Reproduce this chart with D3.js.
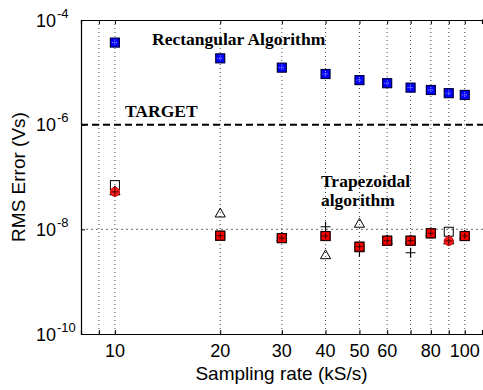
<!DOCTYPE html>
<html>
<head>
<meta charset="utf-8">
<script src="https://cdn.jsdelivr.net/npm/d3@7"></script>
<style>
  html, body { margin: 0; padding: 0; background: #fff; }
  svg { display: block; }
</style>
</head>
<body>
<svg id="chart" width="483" height="390"></svg>
<script>
// Sampling rates (kS/s)
const sampleRates = [10, 20, 30, 40, 50, 60, 70, 80, 90, 100];
// RMS error (Vs), rectangular integration
const rectError = [3.7e-5, 1.85e-5, 1.23e-5, 9.3e-6, 7.1e-6, 6.2e-6, 5.1e-6, 4.6e-6, 4.0e-6, 3.7e-6];
// RMS error (Vs), trapezoidal integration, several runs
const trapRedSquare = [null, 7.55e-9, 6.8e-9, 7.45e-9, 4.65e-9, 6.06e-9, 6.06e-9, 8.4e-9, null, 7.45e-9];
const trapRedCircle = [5.2e-8, 7.55e-9, 6.8e-9, 7.45e-9, 4.65e-9, 6.06e-9, 6.06e-9, 8.4e-9, 6.0e-9, 7.45e-9];
const trapOpenSquare = [7.0e-8, 7.55e-9, 6.8e-9, 7.45e-9, 4.65e-9, 6.06e-9, 6.06e-9, 8.4e-9, 9.0e-9, 7.45e-9];
const trapTriangle = [5.2e-8, 1.96e-8, 6.8e-9, 3.13e-9, 1.25e-8, 6.06e-9, 6.06e-9, 8.4e-9, 6.0e-9, 7.45e-9];
const trapPlus = [5.2e-8, 7.55e-9, 6.8e-9, 1.12e-8, 3.73e-9, 6.06e-9, 3.57e-9, 8.4e-9, 6.0e-9, 7.45e-9];
// Axis ticks and reference levels
const gridRates = [9, 10, 20, 30, 40, 50, 60, 70, 80, 90, 100];
const xTickLabels = [10, 20, 30, 40, 50, 60, 80, 100];
const yDecades = [-10, -8, -6, -4];
const targetLevel = 1e-6;
const referenceLevel = 1e-8;

const svg = d3.select("#chart");
const plotLeft = 81, plotRight = 482, plotTop = 20, plotBottom = 334;
const frameRight = 485;

const x = d3.scaleLog().domain([8, 112]).range([plotLeft, plotRight]);
const y = d3.scaleLog().domain([1e-10, 1e-4]).range([plotBottom, plotTop]);

const g = svg.append("g");

// vertical dotted grid
g.selectAll("line.vgrid").data(gridRates).join("line")
  .attr("x1", d => x(d)).attr("x2", d => x(d))
  .attr("y1", plotTop).attr("y2", plotBottom)
  .attr("stroke", "#444").attr("stroke-width", 1)
  .attr("stroke-dasharray", "1,3");

// horizontal reference grid at 1e-8
g.append("line")
  .attr("x1", plotLeft).attr("x2", frameRight)
  .attr("y1", y(referenceLevel)).attr("y2", y(referenceLevel))
  .attr("stroke", "#888").attr("stroke-width", 1.2)
  .attr("stroke-dasharray", "2,3");

// target line
g.append("line")
  .attr("x1", plotLeft).attr("x2", frameRight)
  .attr("y1", y(targetLevel)).attr("y2", y(targetLevel))
  .attr("stroke", "#000").attr("stroke-width", 2)
  .attr("stroke-dasharray", "7,4");

// axes with inward ticks
const xAxis = d3.axisBottom(x).tickValues(gridRates).tickSize(-4).tickFormat("");
const xAxisTop = d3.axisTop(x).tickValues(gridRates).tickSize(-4).tickFormat("");
const yAxis = d3.axisLeft(y).tickValues(yDecades.map(e => Math.pow(10, e))).tickSize(-4).tickFormat("");

function styleAxis(sel) {
  sel.select(".domain").attr("stroke", "#000").attr("stroke-width", 1.2);
  sel.selectAll(".tick line").attr("stroke", "#000");
}
g.append("g").attr("transform", `translate(0,${plotBottom})`).call(xAxis).call(styleAxis);
g.append("g").attr("transform", `translate(0,${plotTop})`).call(xAxisTop).call(styleAxis);
g.append("g").attr("transform", `translate(${plotLeft},0)`).call(yAxis).call(styleAxis);
// frame runs on past the right edge of the canvas
g.append("path")
  .attr("d", `M${plotRight},${plotTop}H${frameRight}M${plotRight},${plotBottom}H${frameRight}`)
  .attr("stroke", "#000").attr("stroke-width", 1.2);

// x tick labels
g.selectAll("text.xt").data(xTickLabels).join("text")
  .attr("x", d => x(d)).attr("y", 357)
  .attr("text-anchor", "middle")
  .attr("font-family", "Liberation Sans, Arial, sans-serif")
  .attr("font-size", 18)
  .text(d => d);

// y tick labels: 10 with superscript exponent
const yl = g.selectAll("text.yt").data(yDecades).join("text")
  .attr("x", 36).attr("y", d => y(Math.pow(10, d)) + 6.5)
  .attr("font-family", "Liberation Sans, Arial, sans-serif")
  .attr("font-size", 18);
yl.append("tspan").text("10");
yl.append("tspan").attr("dy", -9).attr("dx", 1).attr("font-size", 13).text(d => "-" + Math.abs(d));

// axis titles
svg.append("text")
  .attr("x", (plotLeft + plotRight) / 2).attr("y", 380)
  .attr("text-anchor", "middle")
  .attr("font-family", "Liberation Sans, Arial, sans-serif")
  .attr("font-size", 19)
  .text("Sampling rate (kS/s)");
svg.append("text")
  .attr("transform", `translate(25,${(plotTop + plotBottom) / 2}) rotate(-90)`)
  .attr("text-anchor", "middle")
  .attr("font-family", "Liberation Sans, Arial, sans-serif")
  .attr("font-size", 19)
  .text("RMS Error (Vs)");

// annotations
const serif = "Liberation Serif, Times New Roman, serif";
function note(tx, ty, s) {
  svg.append("text").attr("x", tx).attr("y", ty)
    .attr("font-family", serif).attr("font-weight", "bold").attr("font-size", 17.5)
    .text(s);
}
note(152, 45, "Rectangular Algorithm");
note(125, 117, "TARGET");
note(321, 187, "Trapezoidal");
note(321, 206, "algorithm");

// marker helpers
const pts = vals => sampleRates.map((r, i) => ({ r, v: vals[i] })).filter(d => d.v != null);
const marks = svg.append("g");

// open squares
marks.selectAll("rect.os").data(pts(trapOpenSquare)).join("rect")
  .attr("x", d => x(d.r) - 4.5).attr("y", d => y(d.v) - 4.5)
  .attr("width", 9).attr("height", 9)
  .attr("fill", "none").attr("stroke", "#000").attr("stroke-width", 1);

// open triangles
const tri = d3.symbol().type(d3.symbolTriangle).size(45);
marks.selectAll("path.tri").data(pts(trapTriangle)).join("path")
  .attr("d", tri)
  .attr("transform", d => `translate(${x(d.r)},${y(d.v)})`)
  .attr("fill", "none").attr("stroke", "#000").attr("stroke-width", 1);

// plus signs
marks.selectAll("path.plus").data(pts(trapPlus)).join("path")
  .attr("d", d => { const cx = x(d.r), cy = y(d.v); return `M${cx - 5},${cy}H${cx + 5}M${cx},${cy - 5}V${cy + 5}`; })
  .attr("stroke", "#000").attr("stroke-width", 1.2).attr("fill", "none");

// red circles
marks.selectAll("circle.rc").data(pts(trapRedCircle)).join("circle")
  .attr("cx", d => x(d.r)).attr("cy", d => y(d.v)).attr("r", 4.5)
  .attr("fill", "#ff2020").attr("stroke", "#e00000").attr("stroke-width", 1);
marks.selectAll("path.rcp").data(pts(trapRedCircle)).join("path")
  .attr("d", d => { const cx = x(d.r), cy = y(d.v); return `M${cx - 3.5},${cy}H${cx + 3.5}M${cx},${cy - 4}V${cy + 4}`; })
  .attr("stroke", "#400").attr("stroke-width", 1);

// red filled squares
marks.selectAll("rect.rs").data(pts(trapRedSquare)).join("rect")
  .attr("x", d => x(d.r) - 4.5).attr("y", d => y(d.v) - 4.5)
  .attr("width", 9).attr("height", 9)
  .attr("fill", "#ff0000").attr("stroke", "#220000").attr("stroke-width", 1.2);
marks.selectAll("path.rsp").data(pts(trapRedSquare)).join("path")
  .attr("d", d => { const cx = x(d.r), cy = y(d.v); return `M${cx - 3},${cy}H${cx + 3}M${cx},${cy - 3}V${cy + 3}`; })
  .attr("stroke", "#300").attr("stroke-width", 1);

// rectangular: blue squares
marks.selectAll("rect.bs").data(pts(rectError)).join("rect")
  .attr("x", d => x(d.r) - 4.5).attr("y", d => y(d.v) - 4.5)
  .attr("width", 9).attr("height", 9)
  .attr("fill", "#0000ff").attr("stroke", "#000040").attr("stroke-width", 1.2);
marks.selectAll("path.bsp").data(pts(rectError)).join("path")
  .attr("d", d => { const cx = x(d.r), cy = y(d.v); return `M${cx - 3},${cy}H${cx + 3}M${cx},${cy - 3}V${cy + 3}`; })
  .attr("stroke", "#a0a0ff").attr("stroke-width", 1).attr("stroke-dasharray", "1,1");
</script>
</body>
</html>
